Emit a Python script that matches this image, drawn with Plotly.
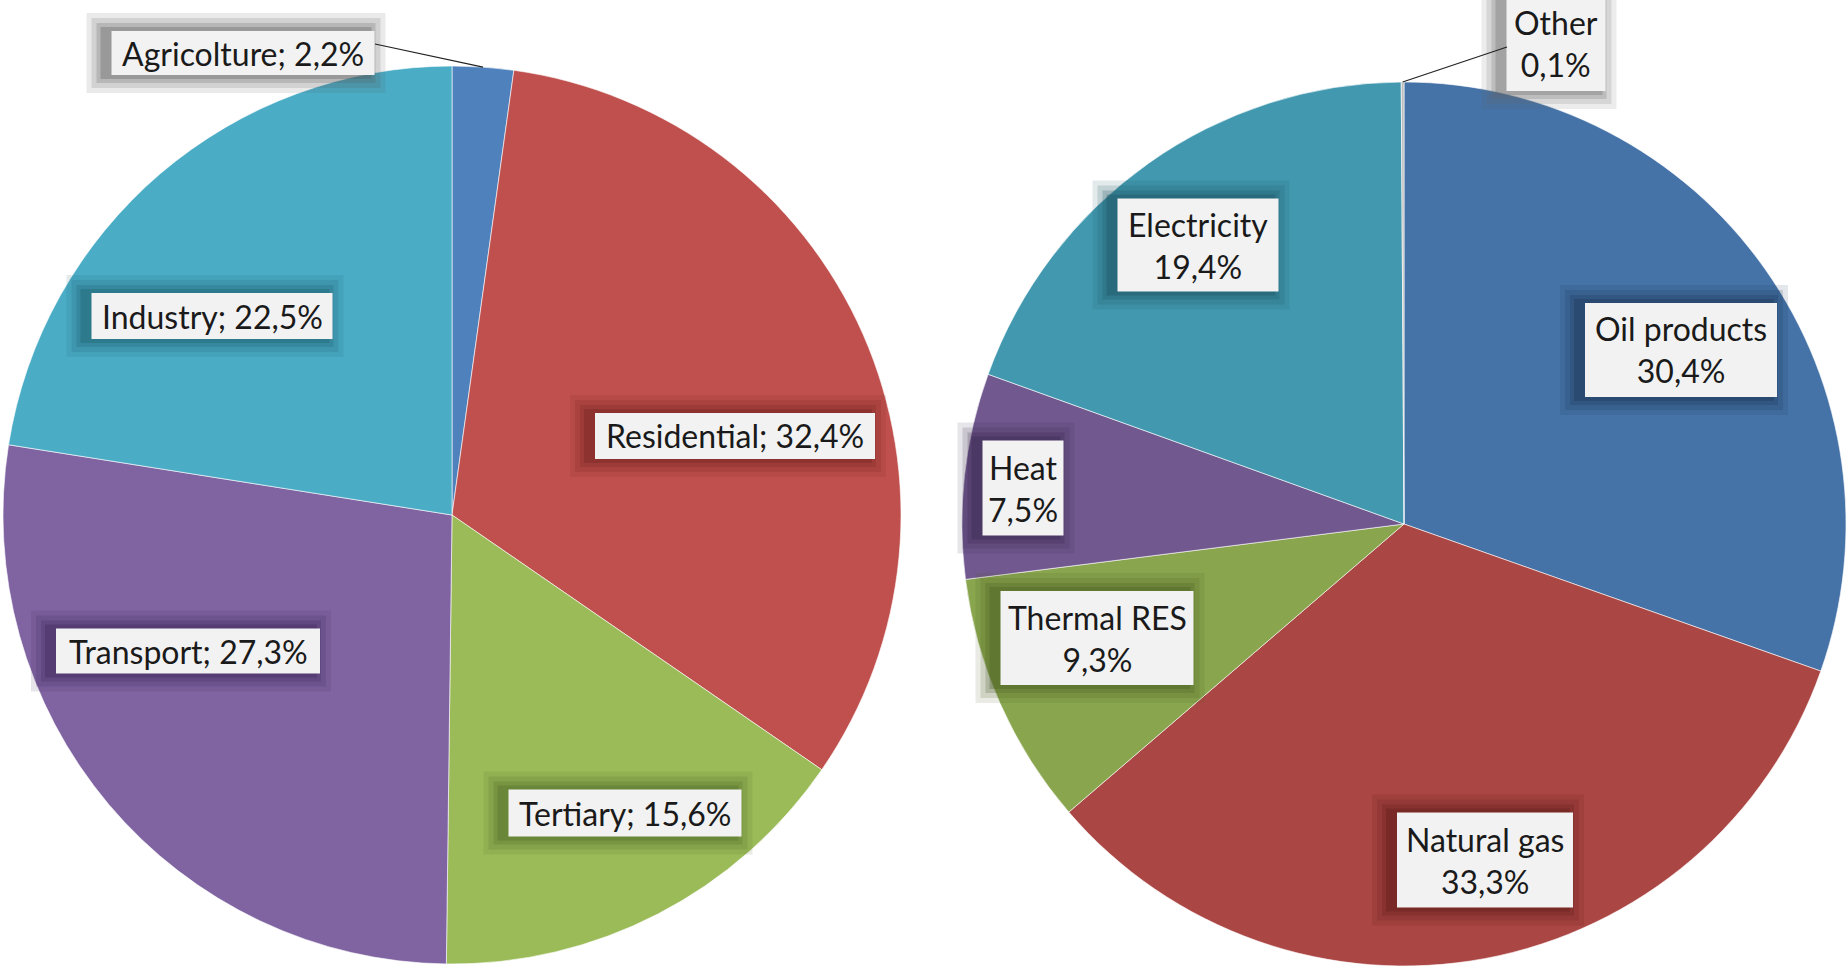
import math
import plotly.graph_objects as go

W, H = 1847, 968

# ---- data ----
left_labels = ["Agricolture", "Residential", "Tertiary", "Transport", "Industry"]
left_values = [2.2, 32.4, 15.6, 27.3, 22.5]
left_colors = ["#4F81BD", "#C0504D", "#9BBB59", "#8064A2", "#4BACC6"]
left_shadow = ["#555555", "#6e1f1d", "#4d6424", "#3b2656", "#1d5868"]

right_labels = ["Oil products", "Natural gas", "Thermal RES", "Heat", "Electricity", "Other"]
right_values = [30.4, 33.3, 9.3, 7.5, 19.4, 0.1]
right_colors = ["#4572A7", "#AA4643", "#89A54E", "#71588F", "#4198AF", "#BEBEBE"]
right_shadow = ["#1c3050", "#5a1a18", "#46581e", "#35264a", "#1a4f5e", "#666666"]

# ---- layout (pixels) ----
left_center, left_r = (452, 515), 449
right_center, right_r = (1404, 524), 442

# label box centres and sizes (pixels)
left_label_pos = [(243, 53), (735, 436), (625, 813), (188, 651), (212, 316)]
left_box = [(263, 44), (280, 46), (233, 47), (264, 45), (241, 46)]
right_label_pos = [(1681, 350), (1485, 860), (1097, 638), (1023, 488), (1198, 245), (1556, 44)]
right_box = [(192, 94), (176, 95), (193, 94), (81, 95), (161, 93), (99, 94)]


def px(x):
    return x / W


def py(y):
    return 1 - y / H


def fmt(v):
    return f"{v:.1f}".replace(".", ",") + "%"


def domain(center, r):
    cx, cy = center
    return dict(x=[px(cx - r), px(cx + r)], y=[py(cy + r), py(cy - r)])


fig = go.Figure()
fig.add_trace(go.Pie(labels=left_labels, values=left_values, sort=False,
                     direction="clockwise", rotation=0,
                     marker=dict(colors=left_colors, line=dict(color="rgba(255,255,255,0.6)", width=1)),
                     textinfo="none", hoverinfo="skip", showlegend=False,
                     domain=domain(left_center, left_r)))
fig.add_trace(go.Pie(labels=right_labels, values=right_values, sort=False,
                     direction="clockwise", rotation=0,
                     marker=dict(colors=right_colors, line=dict(color="rgba(255,255,255,0.6)", width=1)),
                     textinfo="none", hoverinfo="skip", showlegend=False,
                     domain=domain(right_center, right_r)))

FONT = dict(family="Lato, 'Open Sans', sans-serif", size=32, color="#1a1a1a")
annotations = []
shapes = []


def hex_rgba(h, a):
    h = h.lstrip("#")
    r, g, b = int(h[0:2], 16), int(h[2:4], 16), int(h[4:6], 16)
    return f"rgba({r},{g},{b},{a})"


def add_label(text, pos, box, shadow):
    x, y = pos
    bw, bh = box
    for grow, a in [(18, 0.12), (13, 0.16), (8, 0.22), (4, 0.3)]:
        shapes.append(dict(type="rect", xref="paper", yref="paper", layer="above",
                           x0=px(x - bw / 2 - grow - 7), x1=px(x + bw / 2 + grow - 7),
                           y0=py(y + bh / 2 + grow), y1=py(y - bh / 2 - grow),
                           fillcolor=hex_rgba(shadow, a), line=dict(width=0)))
    shapes.append(dict(type="rect", xref="paper", yref="paper", layer="above",
                       x0=px(x - bw / 2), x1=px(x + bw / 2),
                       y0=py(y + bh / 2), y1=py(y - bh / 2),
                       fillcolor="#F2F2F2", line=dict(width=0)))
    annotations.append(dict(x=px(x), y=py(y), xref="paper", yref="paper", text=text,
                            xanchor="center", yanchor="middle",
                            showarrow=False, font=FONT))


for lab, val, pos, bx, sh in zip(left_labels, left_values, left_label_pos, left_box, left_shadow):
    add_label(f"{lab}; {fmt(val)}", pos, bx, sh)
for lab, val, pos, bx, sh in zip(right_labels, right_values, right_label_pos, right_box, right_shadow):
    add_label(f"{lab}<br>{fmt(val)}", pos, bx, sh)


def edge_point(values, idx, center, r):
    total = sum(values)
    mid = (sum(values[:idx]) + values[idx] / 2) / total * 2 * math.pi
    return center[0] + r * math.sin(mid), center[1] - r * math.cos(mid)


# leader lines for the small slices
ex, ey = edge_point(left_values, 0, left_center, left_r)
shapes.append(dict(type="line", xref="paper", yref="paper", x0=px(375), y0=py(44),
                   x1=px(ex), y1=py(ey), line=dict(color="#222222", width=1.2)))
ex, ey = edge_point(right_values, 5, right_center, right_r)
shapes.append(dict(type="line", xref="paper", yref="paper", x0=px(1507), y0=py(47),
                   x1=px(ex), y1=py(ey), line=dict(color="#222222", width=1.2)))

fig.update_layout(width=W, height=H, margin=dict(l=0, r=0, t=0, b=0),
                  paper_bgcolor="white", plot_bgcolor="white",
                  annotations=annotations, shapes=shapes)

fig.write_html("out.html", post_script="document.body.style.margin='0';",
               config={"displayModeBar": False})
